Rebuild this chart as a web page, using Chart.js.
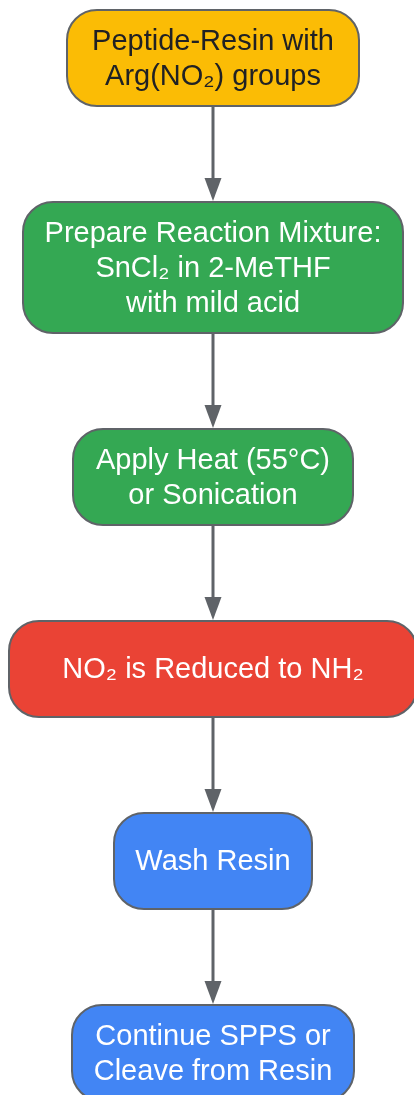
<!DOCTYPE html>
<html>
<head>
<meta charset="utf-8">
<script src="https://cdn.jsdelivr.net/npm/chart.js@4"></script>
<style>
  html, body { margin: 0; padding: 0; background: #ffffff; }
  #wrap { width: 414px; height: 1095px; }
</style>
</head>
<body>
<div id="wrap"><canvas id="myChart" width="414" height="1095"></canvas></div>
<script>
// flow steps, top to bottom
var stepLabels = [
  ["Peptide-Resin with", "Arg(NO\u2082) groups"],
  ["Prepare Reaction Mixture:", "SnCl\u2082 in 2-MeTHF", "with mild acid"],
  ["Apply Heat (55\u00b0C)", "or Sonication"],
  ["NO\u2082 is Reduced to NH\u2082"],
  ["Wash Resin"],
  ["Continue SPPS or", "Cleave from Resin"]
];
var stepKinds = ["start", "prep", "prep", "reaction", "wash", "wash"];
// edges: from step -> to step
var edgeFrom = [0, 1, 2, 3, 4];
var edgeTo = [1, 2, 3, 4, 5];

// look of each kind
var kindFill = { start: "#fbbc05", prep: "#34a853", reaction: "#ea4335", wash: "#4285f4" };
var kindText = { start: "#202124", prep: "#ffffff", reaction: "#ffffff", wash: "#ffffff" };

// layout
var boxWidths = [292, 380, 280, 408, 198, 282];
var topY = 10;
var gapY = 96;
var lineH = 35;
var fontPx = 29;
var centerX = 213;

function boxHeight(lines) {
  return Math.max(96, lines * lineH + 26);
}

function layoutCenters() {
  var y = topY;
  var out = [];
  for (var i = 0; i < stepLabels.length; i++) {
    var h = boxHeight(stepLabels[i].length);
    out.push({ x: centerX, y: y + h / 2, h: h, w: boxWidths[i] });
    y += h + gapY;
  }
  return out;
}

var nodes = layoutCenters();

var flowPlugin = {
  id: "flow",
  afterDatasetsDraw: function (chart) {
    var ctx = chart.ctx;
    var xs = chart.scales.x;
    var ys = chart.scales.y;
    var pts = chart.data.datasets[0].data;

    // arrows first
    ctx.save();
    ctx.strokeStyle = "#5f6368";
    ctx.fillStyle = "#5f6368";
    ctx.lineWidth = 3;
    for (var e = 0; e < edgeFrom.length; e++) {
      var a = pts[edgeFrom[e]], b = pts[edgeTo[e]];
      var x = xs.getPixelForValue(a.x);
      var y1 = ys.getPixelForValue(a.y + a.h / 2);
      var y2 = ys.getPixelForValue(b.y - b.h / 2) - 1;
      ctx.beginPath();
      ctx.moveTo(x, y1);
      ctx.lineTo(x, y2 - 20);
      ctx.stroke();
      ctx.beginPath();
      ctx.moveTo(x - 8.5, y2 - 23);
      ctx.lineTo(x + 8.5, y2 - 23);
      ctx.lineTo(x, y2);
      ctx.closePath();
      ctx.fill();
    }
    ctx.restore();

    // boxes
    for (var i = 0; i < pts.length; i++) {
      var p = pts[i];
      var left = xs.getPixelForValue(p.x - p.w / 2);
      var right = xs.getPixelForValue(p.x + p.w / 2);
      var top = ys.getPixelForValue(p.y - p.h / 2);
      var bottom = ys.getPixelForValue(p.y + p.h / 2);
      var kind = stepKinds[i];
      ctx.save();
      ctx.beginPath();
      ctx.roundRect(left, top, right - left, bottom - top, 30);
      ctx.fillStyle = kindFill[kind];
      ctx.fill();
      ctx.lineWidth = 2;
      ctx.strokeStyle = "#5f6368";
      ctx.stroke();

      ctx.fillStyle = kindText[kind];
      ctx.font = fontPx + "px 'Liberation Sans', Arial, sans-serif";
      ctx.textAlign = "center";
      ctx.textBaseline = "middle";
      var lines = stepLabels[i];
      var cy = ys.getPixelForValue(p.y);
      var cx = xs.getPixelForValue(p.x);
      for (var l = 0; l < lines.length; l++) {
        var ly = cy + (l - (lines.length - 1) / 2) * lineH + 1;
        ctx.fillText(lines[l], cx, ly);
      }
      ctx.restore();
    }
  }
};

var ctx = document.getElementById("myChart").getContext("2d");
var chart = new Chart(ctx, {
  type: "scatter",
  data: {
    datasets: [{
      label: "steps",
      data: nodes,
      pointRadius: 0,
      pointHoverRadius: 0
    }]
  },
  options: {
    responsive: false,
    animation: false,
    events: [],
    layout: { padding: 0 },
    plugins: { legend: { display: false }, tooltip: { enabled: false } },
    scales: {
      x: { type: "linear", min: 0, max: 414, display: false },
      y: { type: "linear", min: 0, max: 1095, reverse: true, display: false }
    }
  },
  plugins: [flowPlugin]
});
</script>
</body>
</html>
